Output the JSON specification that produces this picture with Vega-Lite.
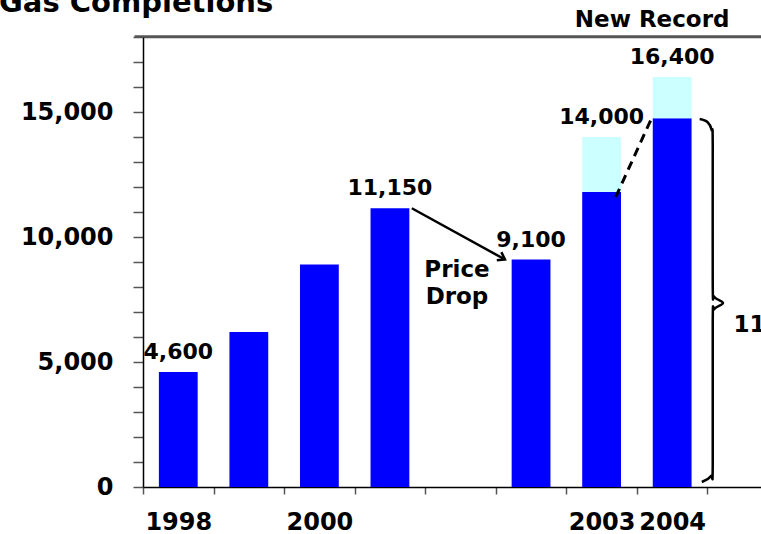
{
  "$schema": "https://vega.github.io/schema/vega-lite/v6.json",
  "width": 618,
  "height": 450,
  "autosize": {"type": "none"},
  "padding": {"left": 143, "top": 37, "right": 0, "bottom": 47},
  "background": "white",
  "config": {"view": {"stroke": null}, "font": "DejaVu Sans"},
  "datasets": {
    "bars": [
      {"year": "1998", "part": "a", "value": 4600},
      {"year": "1999", "part": "a", "value": 6200},
      {"year": "2000", "part": "a", "value": 8900},
      {"year": "2001", "part": "a", "value": 11150},
      {"year": "2002", "part": "a", "value": 9100},
      {"year": "2003", "part": "a", "value": 11800},
      {"year": "2003", "part": "b", "value": 2200},
      {"year": "2004", "part": "a", "value": 14750},
      {"year": "2004", "part": "b", "value": 1650}
    ],
    "labels": [
      {"year": "1998", "total": 4600},
      {"year": "2001", "total": 11150},
      {"year": "2002", "total": 9100},
      {"year": "2003", "total": 14000},
      {"year": "2004", "total": 16400}
    ],
    "topband": [
      {"x": -0.12, "x2": 9, "y": 18000, "y2": 18070}
    ],
    "arrow": [
      {"i": 0, "x": 3.81, "y": 11150},
      {"i": 1, "x": 5.13, "y": 9100}
    ],
    "arrowhead": [
      {"x": 5.13, "y": 9100}
    ],
    "dash": [
      {"i": 0, "x": 6.7, "y": 11600},
      {"i": 1, "x": 7.21, "y": 14760}
    ],
    "brace": [
      {"i": 0, "x": 7.89, "y": 14720},
      {"i": 1, "x": 8.0, "y": 14600},
      {"i": 2, "x": 8.06, "y": 14280},
      {"i": 3, "x": 8.075, "y": 13680},
      {"i": 4, "x": 8.075, "y": 8080},
      {"i": 5, "x": 8.1, "y": 7600},
      {"i": 6, "x": 8.22, "y": 7360},
      {"i": 7, "x": 8.1, "y": 7120},
      {"i": 8, "x": 8.075, "y": 6640},
      {"i": 9, "x": 8.075, "y": 880},
      {"i": 10, "x": 8.05, "y": 440},
      {"i": 11, "x": 7.92, "y": 200}
    ],
    "centerNotes": [
      {"x": 4.45, "y": 8400, "label": ["Price", "Drop"]}
    ],
    "leftNotes": [
      {"x": 6.12, "y": 18400, "label": "New Record"},
      {"x": 8.37, "y": 6200, "label": "11%"}
    ],
    "heading": [
      {"x": -2.04, "y": 19000, "label": "Gas Completions"}
    ]
  },
  "resolve": {"scale": {"x": "independent"}},
  "layer": [
    {
      "layer": [
        {
          "data": {"name": "bars"},
          "mark": {"type": "bar", "width": {"band": 0.55}},
          "encoding": {
            "x": {
              "field": "year",
              "type": "nominal",
              "sort": null,
              "scale": {
                "domain": ["1998", "1999", "2000", "2001", "gap", "2002", "2003", "2004", "end"],
                "range": [0, 635],
                "paddingInner": 0,
                "paddingOuter": 0
              },
              "axis": {
                "title": null,
                "labelAngle": 0,
                "labelExpr": "indexof(['1998','2000','2003','2004'], datum.value) >= 0 ? datum.value : ''",
                "labelFont": "DejaVu Sans",
                "labelFontSize": 24,
                "labelFontWeight": "bold",
                "labelColor": "black",
                "labelPadding": 16,
                "tickBand": "extent",
                "tickSize": 7,
                "tickColor": "#555555",
                "tickWidth": 1.5,
                "domainColor": "black",
                "domainWidth": 1.5,
                "grid": false
              }
            },
            "y": {
              "field": "value",
              "type": "quantitative",
              "stack": "zero",
              "title": null,
              "scale": {"domain": [0, 18000], "nice": false, "zero": true},
              "axis": {
                "tickCount": 18,
                "labelExpr": "datum.value % 5000 == 0 && datum.value < 18000 ? format(datum.value, ',') : ''",
                "labelFont": "DejaVu Sans",
                "labelFontSize": 24,
                "labelFontWeight": "bold",
                "labelColor": "black",
                "labelPadding": 20,
                "tickSize": 10,
                "tickColor": "#555555",
                "tickWidth": 1.5,
                "domainColor": "black",
                "domainWidth": 1.5,
                "grid": true,
                "gridWidth": 1.5,
                "gridColor": {"condition": {"test": "datum.value >= 18000", "value": "#555555"}, "value": "transparent"},
                "labelOverlap": false
              }
            },
            "color": {
              "field": "part",
              "type": "nominal",
              "scale": {"domain": ["a", "b"], "range": ["#0000FF", "#CCFFFF"]},
              "legend": null
            },
            "order": {"field": "part", "sort": "ascending"}
          }
        },
        {
          "data": {"name": "labels"},
          "mark": {"type": "text", "font": "DejaVu Sans", "fontSize": 22, "fontWeight": "bold", "color": "black", "baseline": "alphabetic", "dy": -13},
          "encoding": {
            "x": {"field": "year", "type": "nominal", "sort": null},
            "y": {"field": "total", "type": "quantitative", "title": null},
            "text": {"field": "total", "type": "quantitative", "format": ","}
          }
        }
      ]
    },
    {
      "layer": [
        {
          "data": {"name": "arrow"},
          "mark": {"type": "line", "color": "black", "strokeWidth": 2.5},
          "encoding": {
            "x": {"field": "x", "type": "quantitative", "scale": {"domain": [0, 9], "range": [0, 635], "nice": false, "zero": false}, "axis": null},
            "y": {"field": "y", "type": "quantitative", "title": null},
            "order": {"field": "i"}
          }
        },
        {
          "data": {"name": "topband"},
          "mark": {"type": "rect", "color": "#555555"},
          "encoding": {
            "x": {"field": "x", "type": "quantitative"},
            "x2": {"field": "x2"},
            "y": {"field": "y", "type": "quantitative", "title": null},
            "y2": {"field": "y2"}
          }
        },
        {
          "data": {"name": "arrowhead"},
          "mark": {"type": "point", "shape": "M -1 -0.7 L 0 0 L -1 0.7", "filled": false, "stroke": "black", "strokeWidth": 2.5, "size": 180, "angle": 29, "opacity": 1},
          "encoding": {
            "x": {"field": "x", "type": "quantitative"},
            "y": {"field": "y", "type": "quantitative", "title": null}
          }
        },
        {
          "data": {"name": "dash"},
          "mark": {"type": "line", "color": "black", "strokeWidth": 3, "strokeDash": [9, 6]},
          "encoding": {
            "x": {"field": "x", "type": "quantitative"},
            "y": {"field": "y", "type": "quantitative", "title": null},
            "order": {"field": "i"}
          }
        },
        {
          "data": {"name": "brace"},
          "mark": {"type": "line", "color": "black", "strokeWidth": 2.5, "interpolate": "cardinal"},
          "encoding": {
            "x": {"field": "x", "type": "quantitative"},
            "y": {"field": "y", "type": "quantitative", "title": null},
            "order": {"field": "i"}
          }
        },
        {
          "data": {"name": "centerNotes"},
          "mark": {"type": "text", "font": "DejaVu Sans", "fontSize": 23, "fontWeight": "bold", "color": "black", "baseline": "alphabetic", "align": "center", "lineHeight": 27},
          "encoding": {
            "x": {"field": "x", "type": "quantitative"},
            "y": {"field": "y", "type": "quantitative", "title": null},
            "text": {"field": "label", "type": "nominal"}
          }
        },
        {
          "data": {"name": "leftNotes"},
          "mark": {"type": "text", "font": "DejaVu Sans", "fontSize": 23, "fontWeight": "bold", "color": "black", "baseline": "alphabetic", "align": "left"},
          "encoding": {
            "x": {"field": "x", "type": "quantitative"},
            "y": {"field": "y", "type": "quantitative", "title": null},
            "text": {"field": "label", "type": "nominal"}
          }
        },
        {
          "data": {"name": "heading"},
          "mark": {"type": "text", "font": "DejaVu Sans", "fontSize": 29, "fontWeight": "bold", "color": "black", "baseline": "alphabetic", "align": "left"},
          "encoding": {
            "x": {"field": "x", "type": "quantitative"},
            "y": {"field": "y", "type": "quantitative", "title": null},
            "text": {"field": "label", "type": "nominal"}
          }
        }
      ]
    }
  ]
}
